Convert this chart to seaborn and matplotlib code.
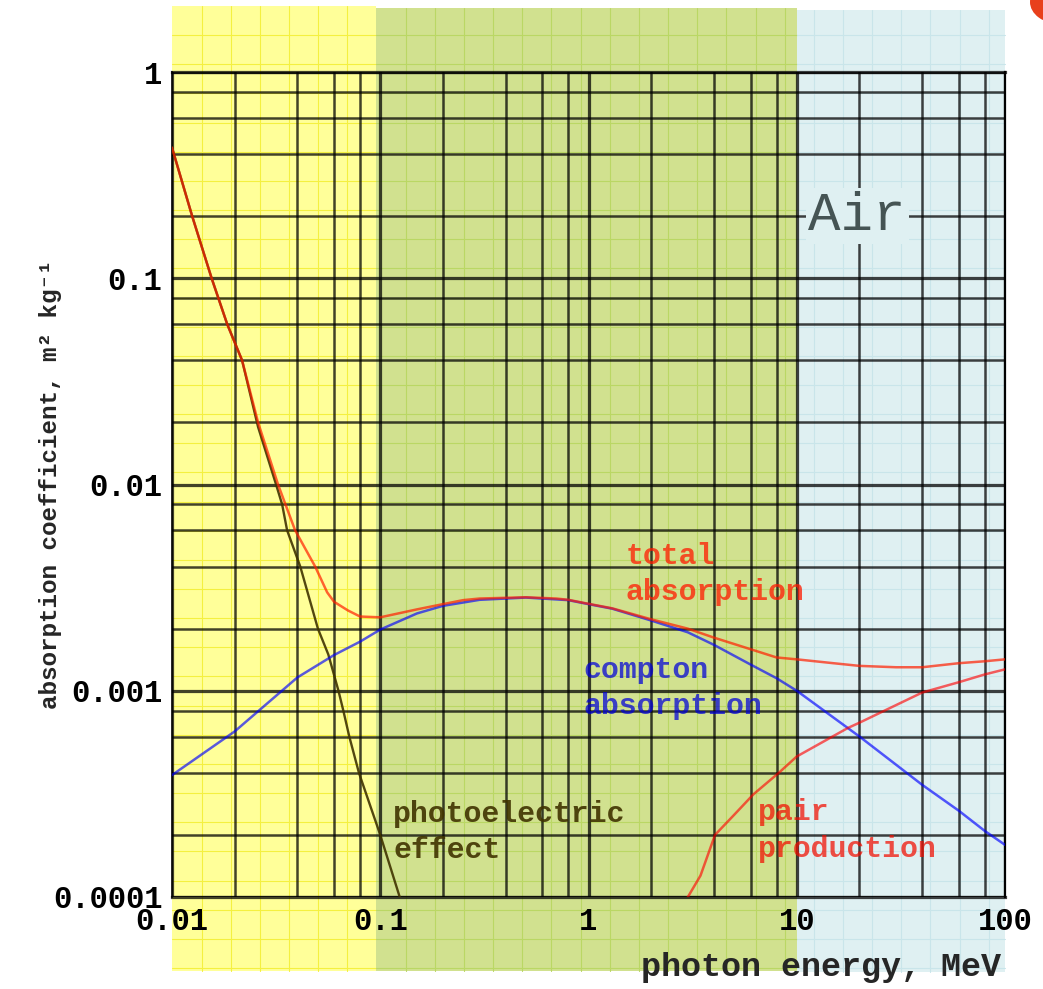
import numpy as np
import pandas as pd
import matplotlib
matplotlib.use("Agg")
import matplotlib.pyplot as plt
import seaborn as sns
import matplotlib.transforms as mtransforms
from matplotlib.patches import Rectangle, Ellipse
from matplotlib.lines import Line2D
from matplotlib.ticker import FixedLocator, FixedFormatter, LogLocator, NullFormatter

# ---------------- data ----------------
total_energy = [0.01, 0.0125, 0.0155, 0.0184, 0.0217, 0.0259, 0.0323, 0.039, 0.0487, 0.0556,
                0.06, 0.07, 0.08, 0.1, 0.15, 0.2, 0.25, 0.3, 0.5, 0.7, 0.8, 1.0, 1.3, 2.0,
                3.0, 4.0, 6.0, 8.0, 10, 15, 20, 30, 40, 60, 80, 100]
total_coeff = [0.43, 0.2, 0.1, 0.06, 0.04, 0.02, 0.01, 0.006, 0.004, 0.003,
               0.0027, 0.00245, 0.00229, 0.00227, 0.00248, 0.00263, 0.00275, 0.0028, 0.00284,
               0.0028, 0.00276, 0.00264, 0.00251, 0.00222,
               0.002, 0.00181, 0.00159, 0.00145, 0.00142, 0.00136, 0.00132, 0.0013, 0.0013,
               0.00136, 0.00139, 0.00142]

compton_energy = [0.01, 0.02, 0.04, 0.06, 0.08, 0.1, 0.15, 0.2, 0.3, 0.5, 0.8, 1.0, 1.3, 2.0,
                  3.0, 4.0, 6.0, 8.0, 10, 20, 40, 60, 80, 100]
compton_coeff = [0.00039, 0.000635, 0.00116, 0.00149, 0.00173, 0.00198, 0.00237, 0.00258,
                 0.00276, 0.00283, 0.00275, 0.00263, 0.0025, 0.00219, 0.00192, 0.00167,
                 0.00134, 0.00115, 0.001, 0.0006, 0.00035, 0.000262, 0.000209, 0.000179]

photo_energy = [0.01, 0.0125, 0.0155, 0.0184, 0.0217, 0.0259, 0.0316, 0.0338, 0.0357, 0.0413,
                0.0502, 0.0563, 0.063, 0.0665, 0.071, 0.079, 0.1, 0.124]
photo_coeff = [0.43, 0.2, 0.1, 0.06, 0.04, 0.019, 0.01, 0.008, 0.006, 0.004,
               0.002, 0.0015, 0.001, 0.0008, 0.0006, 0.0004, 0.0002, 0.0001]

pair_energy = [3.0, 3.45, 4.05, 5.0, 6.2, 8.2, 10, 17.6, 20, 40, 60, 80, 100]
pair_coeff = [0.0001, 0.000127, 0.0002, 0.00025, 0.000315, 0.0004, 0.00048, 0.00066,
              0.0007, 0.00098, 0.0011, 0.0012, 0.00127]

x_tick_values = [0.01, 0.1, 1, 10, 100]
x_tick_labels = ["0.01", "0.1", "1", "10", "100"]
y_tick_values = [0.0001, 0.001, 0.01, 0.1, 1]
y_tick_labels = ["0.0001", "0.001", "0.01", "0.1", "1"]

band_edges = [0.01, 0.1, 10, 100]

# ---------------- style ----------------
sns.set_style("white")
plt.rcParams['font.family'] = ['Liberation Mono', 'DejaVu Sans Mono']

W, H = 1043, 989
fig = plt.figure(figsize=(W / 100, H / 100), dpi=100)
ax = fig.add_axes([172 / W, (H - 897) / H, 833 / W, 825 / H])
ax.set_xscale('log')
ax.set_yscale('log')
ax.set_xlim(0.01, 100)
ax.set_ylim(0.0001, 1)
ax.patch.set_visible(False)

# ---------------- background bands ----------------
band_face = ['#FFFF99', '#D1E18F', '#DFF0F2']
band_fine = ['#F4F040', '#BAD764', '#C9E5EA']
band_top = [6, 8, 10]
band_bot = [971, 971, 972]
blend = mtransforms.blended_transform_factory(ax.transData, fig.transFigure)
ident = mtransforms.IdentityTransform()
step = 29.15
fx0, fy0 = 172.5, 6.0
for i in range(3):
    x0, x1 = band_edges[i], band_edges[i + 1]
    yb = (H - band_bot[i]) / H
    yt = (H - band_top[i]) / H
    p0 = ax.transData.transform((x0, 1))[0]
    p1 = ax.transData.transform((x1, 1))[0]
    if i == 0:
        p1 -= 4
    if i == 1:
        p0 -= 4
    fig.add_artist(Rectangle((p0, H - band_bot[i]), p1 - p0, band_bot[i] - band_top[i],
                             transform=ident, facecolor=band_face[i],
                             edgecolor='none', zorder=-5))
    # fine paper grid
    k0 = int(np.ceil((p0 - fx0) / step))
    k1 = int(np.floor((p1 - fx0) / step))
    for k in range(k0, k1 + 1):
        xp = fx0 + k * step
        if xp <= p0 + 1 or xp >= p1 - 1:
            continue
        fig.add_artist(Line2D([xp, xp], [H - band_bot[i], H - band_top[i]], transform=ident,
                              color=band_fine[i], lw=0.8, zorder=-4))
    j = 0
    while fy0 + j * step < band_bot[i]:
        yp = fy0 + j * step
        if yp > band_top[i] + 1:
            fig.add_artist(Line2D([p0, p1], [H - yp, H - yp], transform=ident,
                                  color=band_fine[i], lw=0.8, zorder=-4))
        j += 1

# red corner mark (top right of the screenshot)
fig.add_artist(Ellipse((1060, H - 2), 60, 44, transform=ident, facecolor='#E8401C',
                       edgecolor='none', zorder=5))

# ---------------- grid & ticks ----------------
GA = 0.74
gcol = (0, 0, 0, GA)
ax.xaxis.set_major_locator(FixedLocator(x_tick_values))
ax.xaxis.set_major_formatter(FixedFormatter(x_tick_labels))
ax.yaxis.set_major_locator(FixedLocator(y_tick_values))
ax.yaxis.set_major_formatter(FixedFormatter(y_tick_labels))
ax.xaxis.set_minor_locator(LogLocator(base=10, subs=(2, 4, 6, 8), numticks=30))
ax.yaxis.set_minor_locator(LogLocator(base=10, subs=(2, 4, 6, 8), numticks=30))
ax.xaxis.set_minor_formatter(NullFormatter())
ax.yaxis.set_minor_formatter(NullFormatter())
ax.grid(True, which='major', color='black', alpha=GA, lw=2.3)
ax.grid(True, which='minor', color='black', alpha=GA, lw=1.8)

ax.tick_params(axis='both', which='both', direction='out', length=4.5)
ax.tick_params(axis='y', which='major', colors='black', width=2.0, pad=2.5,
               labelsize=22)
ax.tick_params(axis='y', which='minor', colors='black', width=1.6)
ax.tick_params(axis='x', which='major', color=gcol, width=2.3, pad=3, labelsize=22,
               labelcolor='black')
ax.tick_params(axis='x', which='minor', color=gcol, width=1.8)
for lab in ax.get_xticklabels() + ax.get_yticklabels():
    lab.set_fontweight('bold')

for s in ['top', 'bottom']:
    ax.spines[s].set_color(gcol)
    ax.spines[s].set_linewidth(2.3)
ax.spines['left'].set_color('black')
ax.spines['left'].set_linewidth(1.2)
ax.spines['right'].set_color('black')
ax.spines['right'].set_linewidth(1.6)

# ---------------- curves ----------------
sns.lineplot(x=photo_energy, y=photo_coeff, color=(0.25, 0.2, 0.0), alpha=0.9, lw=1.7,
             ax=ax, zorder=3)
sns.lineplot(x=compton_energy, y=compton_coeff, color=(0, 0, 1), alpha=0.65, lw=1.8,
             ax=ax, zorder=4)
sns.lineplot(x=pair_energy, y=pair_coeff, color=(1, 0, 0), alpha=0.62, lw=1.8,
             ax=ax, zorder=4)
sns.lineplot(x=total_energy, y=total_coeff, color=(1, 0.12, 0), alpha=0.7, lw=1.8,
             ax=ax, zorder=5)

# ---------------- labels ----------------
lab_kw = dict(fontsize=21.5, fontweight='bold', ha='left', va='center', linespacing=1.38,
              zorder=6)
ax.text(1.51, 0.00368, "total\nabsorption", color=(1, 0.1, 0, 0.75), **lab_kw)
ax.text(0.946, 0.00103, "compton\nabsorption", color=(0, 0, 0.85, 0.72), **lab_kw)
ax.text(0.1155, 0.000207, "photoelectric\neffect", color=(0.25, 0.2, 0.0, 0.9), **lab_kw)
ax.text(6.5, 0.00021, "pair\nproduction", color=(0.95, 0.05, 0, 0.72), **lab_kw)
ax.text(19.5, 0.2, "Air", color=(0.27, 0.33, 0.33), fontsize=39, ha='center', va='center',
        zorder=6, bbox=dict(facecolor=band_face[2], edgecolor='none', pad=2))

ax.set_xlabel("photon energy, MeV", fontsize=24, fontweight='bold', ha='right', va='center')
ax.xaxis.set_label_coords(0.995, -0.086)
ax.set_ylabel("absorption coefficient, m² kg⁻¹", fontsize=17.5, fontweight='bold',
              ha='center', va='center')
ax.yaxis.set_label_coords(-0.146, 0.5)

fig.savefig("out.png", dpi=100)
